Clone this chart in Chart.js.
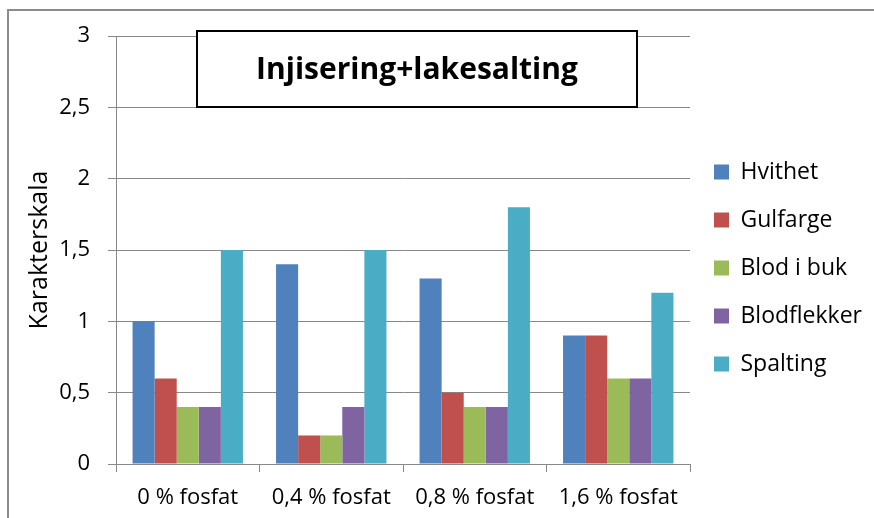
<!DOCTYPE html>
<html>
<head>
<meta charset="utf-8">
<script src="https://cdn.jsdelivr.net/npm/chart.js@4"></script>
<style>
  html, body { margin: 0; padding: 0; background: #fff; }
  #wrap { width: 874px; height: 518px; }
</style>
</head>
<body>
<div id="wrap"><canvas id="c" width="874" height="518"></canvas></div>
<script>
// ── Data ──────────────────────────────────────────────────────────────────
const categories = ["0 % fosfat", "0,4 % fosfat", "0,8 % fosfat", "1,6 % fosfat"];
const seriesNames = ["Hvithet", "Gulfarge", "Blod i buk", "Blodflekker", "Spalting"];
const hvithet     = [1.0, 1.4, 1.3, 0.9];
const gulfarge    = [0.6, 0.2, 0.5, 0.9];
const blodIBuk    = [0.4, 0.2, 0.4, 0.6];
const blodflekker = [0.4, 0.4, 0.4, 0.6];
const spalting    = [1.5, 1.5, 1.8, 1.2];
const chartTitle = "Injisering+lakesalting";
const yTitle = "Karakterskala";

const seriesValues = [hvithet, gulfarge, blodIBuk, blodflekker, spalting];
const colors = ["#4F81BD", "#C0504D", "#9BBB59", "#8064A2", "#4BACC6"];

const FONT = "'Open Sans', 'Liberation Sans', sans-serif";
const GRID = "#888888";

// ── Plugins: outer frame, boxed title inside plot area, legend nudge ──────
const framePlugin = {
  id: "frame",
  afterDraw(chart) {
    const c = chart.ctx;
    c.save();
    c.strokeStyle = "#8c8c8c";
    c.lineWidth = 2;
    c.strokeRect(8, 10, 1000, 1000);
    c.restore();
  },
};

const boxTitlePlugin = {
  id: "boxTitle",
  afterDraw(chart) {
    const c = chart.ctx;
    const x0 = 197, y0 = 31, w = 440, h = 76;
    c.save();
    c.fillStyle = "#fff";
    c.fillRect(x0, y0, w, h);
    c.strokeStyle = "#000";
    c.lineWidth = 2;
    c.strokeRect(x0, y0, w, h);
    c.fillStyle = "#000";
    c.font = "bold 30px " + FONT;
    c.textAlign = "center";
    c.textBaseline = "middle";
    c.fillText(chartTitle, x0 + w / 2, y0 + h / 2 + 1);
    c.restore();
  },
};

// Excel puts the legend a bit above the vertical centre; move it there.
const legendNudge = {
  id: "legendNudge",
  afterLayout(chart) {
    const lg = chart.legend;
    lg.top -= 9; lg.bottom -= 9;
    lg.left -= 1; lg.right -= 1;
  },
};

// ── Chart ─────────────────────────────────────────────────────────────────
new Chart(document.getElementById("c"), {
  type: "bar",
  data: {
    labels: categories,
    datasets: seriesNames.map((name, i) => ({
      label: name,
      data: seriesValues[i],
      backgroundColor: colors[i],
      borderWidth: 0,
      categoryPercentage: 5 / 6.5,
      barPercentage: 1.0,
    })),
  },
  options: {
    responsive: false,
    animation: false,
    devicePixelRatio: 1,
    layout: { padding: { top: 36, left: 8, right: 5, bottom: 0 } },
    plugins: {
      title: { display: false },
      tooltip: { enabled: false },
      legend: {
        position: "right",
        align: "center",
        maxWidth: 179,
        labels: {
          color: "#000",
          font: { family: FONT, size: 23 },
          boxWidth: 15,
          boxHeight: 15,
          padding: 25,
        },
      },
    },
    scales: {
      x: {
        afterFit: (scale) => { scale.height = 54; },
        grid: {
          drawOnChartArea: false,
          drawTicks: true,
          tickLength: 8,
          color: GRID,
        },
        border: { color: GRID, width: 1 },
        ticks: {
          color: "#000",
          font: { family: FONT, size: 22 },
          padding: 13,
          maxRotation: 0,
        },
      },
      y: {
        min: 0,
        max: 3,
        afterFit: (scale) => { scale.width = 108; },
        grid: { color: GRID, tickLength: 8 },
        border: { color: GRID, width: 1 },
        ticks: {
          stepSize: 0.5,
          color: "#000",
          font: { family: FONT, size: 22 },
          padding: 18,
          callback: (v) => String(v).replace(".", ","),
        },
        title: {
          display: true,
          text: yTitle,
          color: "#000",
          font: { family: FONT, size: 25 },
          padding: { top: 17, bottom: 0 },
        },
      },
    },
  },
  plugins: [framePlugin, boxTitlePlugin, legendNudge],
});
</script>
</body>
</html>
